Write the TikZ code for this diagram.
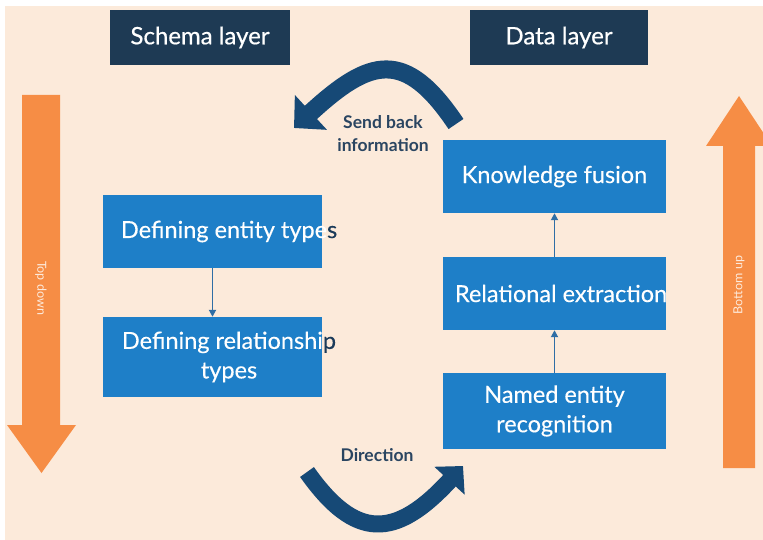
\documentclass[tikz,border=0pt]{standalone}
\usepackage{fontspec}
\setmainfont{Lato}
\newfontfamily\hdrfont[FakeBold=0.6]{Lato}
\newfontfamily\boxfont[FakeBold=0.25]{Lato}
\usetikzlibrary{arrows.meta}
\definecolor{bgpeach}{HTML}{FCEADA}
\definecolor{hdrblue}{HTML}{1E3A54}
\definecolor{boxblue}{HTML}{1E7FC8}
\definecolor{linkblue}{HTML}{2F6EA5}
\definecolor{arcblue}{HTML}{164976}
\definecolor{orangefill}{HTML}{F68D45}
\definecolor{notecolor}{HTML}{2A4561}
\definecolor{sidetxt}{HTML}{FDEADB}
\definecolor{overflowtxt}{HTML}{1B3B5A}
\begin{document}
\begin{tikzpicture}[x=1pt,y=-1pt,
  header/.style={fill=hdrblue, text=white, minimum width=180pt, minimum height=55pt, inner sep=0pt, font=\hdrfont\fontsize{24}{28}\selectfont},
  bluebox/.style={fill=boxblue, minimum width=219pt, minimum height=73pt, inner sep=0pt},
  boxlabel/.style={text=white, font=\boxfont\fontsize{23.5}{29.5}\selectfont, inner sep=0pt, align=center},
  link/.style={draw=linkblue, line width=1.8pt, -{Triangle[width=7pt,length=7pt]}},
  bigarrow/.style={draw=arcblue, line width=18pt},
  orangearrow/.style={fill=orangefill},
  note/.style={text=notecolor, font=\bfseries\fontsize{17.5}{23}\selectfont, align=center, inner sep=0pt},
  sidetext/.style={text=sidetxt, font=\fontsize{12.5}{14}\selectfont, inner sep=0pt}]
\useasboundingbox (0,0) rectangle (763,540);
\fill[white] (0,0) rectangle (763,540);
\fill[bgpeach] (5,6) rectangle (763,540);

% headers
\node[header] (schema) at (200,37.5) {Schema layer};
\node[header, minimum width=178pt] (data) at (559,37.5) {Data layer};

% orange side arrows
\fill[orangearrow] (22,95) -- (60,95) -- (60,425) -- (76,425) -- (41.5,473) -- (7,425) -- (22,425) -- cycle;
\fill[orangearrow] (723,468) -- (755,468) -- (755,146) -- (772,146) -- (739,96) -- (706,146) -- (723,146) -- cycle;
\node[sidetext, rotate=-90] (td) at (41,288) {Top down};
\node[sidetext, rotate=90] (bu) at (739,285) {Bottom up};

% schema boxes
\node[bluebox] (ent) at (212.5,231.5) {};
\node[bluebox, minimum height=80pt] (rel) at (212.5,357) {};
\node[boxlabel, anchor=west] (entt) at ([xshift=18pt]ent.west) {Defining entity type\textcolor{overflowtxt}{s}};
\node[boxlabel] (relt) at (229,357) {Defining relationshi\textcolor{overflowtxt}{p}\\types};

% data boxes
\node[bluebox, minimum width=223pt] (kf) at (554.5,176.5) {};
\node[bluebox, minimum width=223pt] (re) at (554.5,293.5) {};
\node[bluebox, minimum width=223pt, minimum height=76pt] (ner) at (554.5,411) {};
\node[boxlabel] (kft) at (kf) {Knowledge fusion};
\node[boxlabel, anchor=west] (ret) at ([xshift=12pt]re.west) {Relational extraction};
\node[boxlabel] (nert) at (ner) {Named entity\\recognition};

% connectors
\draw[link] (ent) -- (rel);
\draw[link] (ner) -- (re);
\draw[link] (re) -- (kf);

% curved arrows
\coordinate (sbstart) at (456,124);
\coordinate (sbend) at (294,128);
\draw[bigarrow, -{Triangle[width=46pt,length=23pt]}] (sbstart) .. controls (405,48) and (370,58) .. (sbend);
\node[note] (sb) at (383,133.5) {Send back\\information};

\coordinate (dstart) at (307,472);
\coordinate (dend) at (463,466);
\draw[bigarrow, line width=17pt, -{Triangle[width=40pt,length=20pt]}] (dstart) .. controls (355,540) and (395,540) .. (dend);
\node[note] (dir) at (377,455) {Direction};
\end{tikzpicture}
\end{document}
